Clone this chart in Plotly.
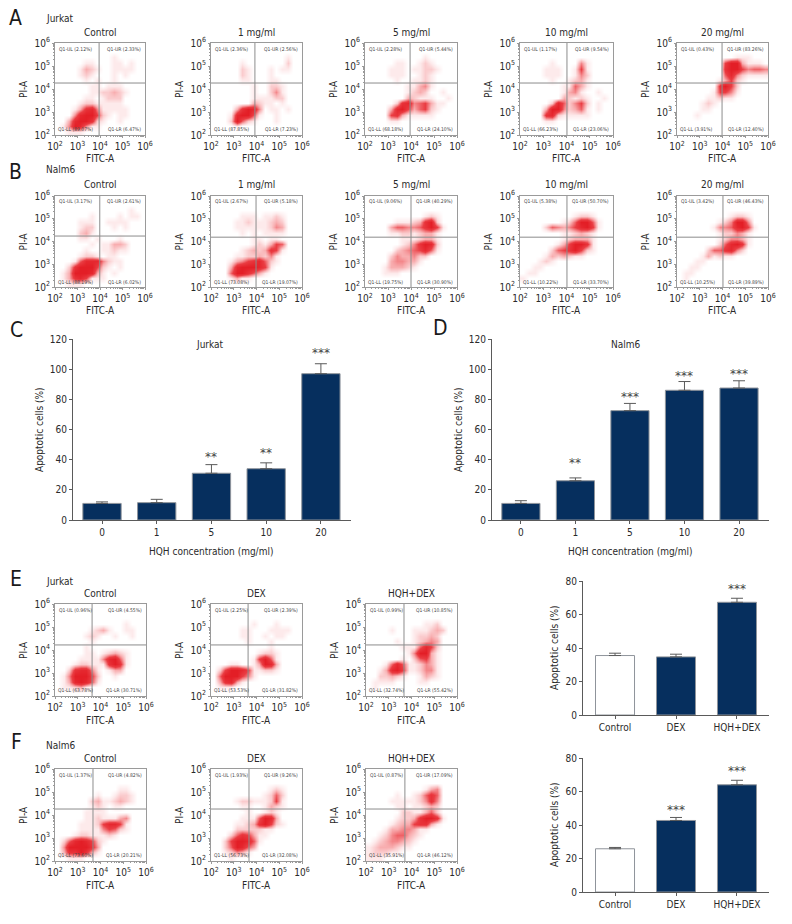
import plotly.graph_objects as go

W, H = 792, 924
FONT = "DejaVu Sans Condensed, Liberation Sans"
TEXT = "#2a2a2a"
BOX = "#9a9a9a"
GATE = "#8c8c8c"
NAVY = "#062f5e"
EDGE = "#8f949b"
AXIS = "#5a5a5a"

# density of the red dots on a 16x16 grid (0 = none, 9 = solid), top row first
A_CONTROL = ["0000000000000000", "0000000000000000", "0000000000100000", "0000011000110100",
             "0000132100111100", "0000121000101000", "0000010100100000", "0000001101110000",
             "0000001122321000", "0000011012220000", "0000122111110000", "0001378411111000",
             "0004899621011000", "0038997210010000", "0149841100000000", "0011100000000000"]
A_1MG = ["0000000000000000", "0000000000000000", "0000000000000100", "0000010000000200",
         "0000021000101100", "0000021000100000", "0000011000110000", "0000000100221000",
         "0000000100241000", "0000000111122000", "0000000321101000", "0000379840110100",
         "0001899510010000", "0002952100010000", "0000100000000000", "0000000000000000"]
A_5MG = ["0000000000000000", "0000000000000000", "0000000000100000", "0000011001210000",
         "0000111011221000", "0000111001210000", "0000010011210000", "0000000113410000",
         "0000000123200100", "0000000321110010", "0000027845631100", "0000389635621000",
         "0000673111110000", "0000110000000000", "0000000000000000", "0000000000000000"]
A_10MG = ["0000000000000000", "0000000000000000", "0000000000000000", "0000010000410000",
          "0000111001610000", "0000111001420000", "0000010012310000", "0000000115310000",
          "0000000134100100", "0000000321210010", "0000028524620100", "0000399423510100",
          "0000782111110000", "0000110000000000", "0000000000000000", "0000000000000000"]
A_20MG = ["0000000000000000", "0000000000000000", "0000000000111000", "0000000069931110",
          "0000000079964554", "0000000058421111", "0000000136210000", "0000000796200000",
          "0000001664100000", "0000011211000000", "0000121000000000", "0000110000000000",
          "0001000000000000", "0000000000000000", "0000000000000000", "0000000000000000"]

B_CONTROL = ["0000000000000000", "0000000000000000", "0000000000000100", "0000001000010110",
             "0000111001111000", "0000122000101000", "0000231000000000", "0000110100010000",
             "0000001011332000", "0000010011211000", "0000122101100000", "0001588842110000",
             "0027999621010000", "0139998310100000", "0137861110000000", "0011100000000000"]
B_1MG = ["0000000000000000", "0000000000000000", "0000000000000000", "0000011101121000",
         "0000112111232000", "0000111111243000", "0000010101111000", "0000000110110000",
         "0000000121365000", "0000012323761000", "0000112232410000", "0001346785210000",
         "0003899986100000", "0005997531000000", "0001311000000000", "0000000000000000"]
B_5MG = ["0000000000000000", "0000000000000000", "0000000000000000", "0000000000121000",
         "0000011123792000", "0000355445796100", "0000112212331000", "0000001112331000",
         "0000001247982000", "0000023456851000", "0000243342200000", "0000344331000000",
         "0001333210000000", "0001110000000000", "0000000000000000", "0000000000000000"]
B_10MG = ["0000000000000000", "0000000000000000", "0000000000000000", "0000000001221000",
          "0000000125995100", "0000254346896100", "0000000112321000", "0000000123331000",
          "0000001369971000", "0000025679621000", "0000132321100000", "0001210000000000",
          "0011000000000000", "0110000000000000", "1000000000000000", "0000000000000000"]
B_20MG = ["0000000000000000", "0000000000000000", "0000000000000000", "0000000001221000",
          "0000000124994000", "0000001445896100", "0000000122431000", "0000000124431000",
          "0000000258971000", "0000025578420000", "0000131211000000", "0001100000000000",
          "0011000000000000", "0110000000000000", "0100000000000000", "0000000000000000"]

E_CONTROL = ["0000000000000000", "0000000000000000", "0000000000000000", "0000000000001000",
             "0000001231001100", "0000012100100100", "0000001000000000", "0000010000000000",
             "0000011012321000", "0000111148951000", "0001221117971000", "0027884101330000",
             "0149996200100000", "0138985100000000", "0112310000000000", "0000000000000000"]
E_DEX = ["0000000000000000", "0000000000000000", "0000000000000000", "0000000100010000",
         "0000011000111100", "0000011001011000", "0000001000100000", "0000000000100000",
         "0000000012210000", "0000000169510000", "0001100139830000", "0269986112210000",
         "0599964100000000", "0378310000000000", "0111000000000000", "0000000000000000"]
E_HQH_DEX = ["0000000000000000", "0000000000000000", "0000000000000000", "0000000000112000",
             "0000100011123200", "0000000012232000", "0000010012343000", "0000001115862000",
             "0000000149931000", "0000001025631000", "0001585112431000", "0013896112441000",
             "0022321001321000", "0111100001100000", "0100000000000000", "0000000000000000"]

F_CONTROL = ["0000000000000000", "0000000000000000", "0000000000000000", "0000000000011000",
             "0000000100122100", "0000002311232100", "0000001210110000", "0000011110000000",
             "0000011211134000", "0000111268861000", "0000111146521000", "0001221112100000",
             "0258986210000000", "0499997300000000", "0377973100000000", "0011100000000000"]
F_DEX = ["0000000000000000", "0000000000000000", "0000000000000000", "0000000000121000",
         "0000000001252000", "0000122111261000", "0000011001321000", "0000001001210000",
         "0000011159830000", "0000112379621000", "0000222221100000", "0002576311000000",
         "0026998510000000", "0025985300000000", "0012431000000000", "0001000000000000"]
F_HQH_DEX = ["0000000000000000", "0000000000000000", "0000000000000000", "0000000000134000",
             "0000010012575000", "0000111112474000", "0000011011232000", "0000002211352000",
             "0000012237997100", "0000123367731000", "0001334431100000", "0012455321000000",
             "0123443210000000", "1233321100000000", "1222110000000000", "1110000000000000"]

# quadrant percentages: UL, UR, LL, LR
A_PCT = [[2.12, 2.33, 89.07, 6.47], [2.36, 2.56, 87.85, 7.23], [2.28, 5.44, 68.18, 24.10],
         [1.17, 9.54, 66.23, 23.06], [0.43, 83.26, 3.91, 12.40]]
B_PCT = [[3.17, 2.61, 88.19, 6.02], [2.67, 5.18, 73.08, 19.07], [9.06, 40.29, 19.75, 30.90],
         [5.38, 50.70, 10.22, 33.70], [3.42, 46.43, 10.25, 39.89]]
E_PCT = [[0.96, 4.55, 63.78, 30.71], [2.25, 2.39, 53.53, 31.82], [0.99, 10.85, 32.74, 55.42]]
F_PCT = [[1.37, 4.82, 73.60, 20.21], [1.93, 9.26, 56.73, 32.08], [0.87, 17.09, 35.91, 46.12]]

# gate positions in decades
A_GATE_X = [3.96, 3.93, 3.96, 4.02, 3.98]
A_GATE_Y = [4.26, 4.26, 4.26, 4.26, 4.26]
B_GATE_X = [3.99, 3.98, 4.00, 4.02, 4.02]
B_GATE_Y = [4.24, 4.19, 4.19, 4.19, 4.19]
E_GATE_X = [3.63, 3.63, 3.67]
E_GATE_Y = [4.22, 4.22, 4.22]
F_GATE_X = [3.67, 3.67, 3.71]
F_GATE_Y = [4.26, 4.26, 4.26]

DOSE_TITLES = ["Control", "1 mg/ml", "5 mg/ml", "10 mg/ml", "20 mg/ml"]
DEX_TITLES = ["Control", "DEX", "HQH+DEX"]

# bar charts
DOSES = ["0", "1", "5", "10", "20"]
C_VALUES = [11, 11.5, 31, 34, 97]
C_ERR_TOP = [12, 13.7, 36.7, 37.9, 103.6]
C_STARS = ["", "", "**", "**", "***"]
C_STAR_Y = [0, 0, 41.8, 44.4, 111]
D_VALUES = [11, 26, 72.5, 86, 87.5]
D_ERR_TOP = [12.8, 27.9, 77.3, 91.8, 92.3]
D_STARS = ["", "**", "***", "***", "***"]
D_STAR_Y = [0, 37.8, 81.5, 95.5, 96.8]
TREATMENTS = ["Control", "DEX", "HQH+DEX"]
E_VALUES = [35.5, 34.7, 67.3]
E_ERR_TOP = [36.9, 36.3, 69.7]
E_STARS = ["", "", "***"]
E_STAR_Y = [0, 0, 75.5]
F_VALUES = [25.8, 42.7, 64.0]
F_ERR_TOP = [26.6, 44.5, 66.7]
F_STARS = ["", "***", "***"]
F_STAR_Y = [0, 49, 72.5]

DECADES = [2, 3, 4, 5, 6]
DECADE_LABELS = ["10<sup>2</sup>", "10<sup>3</sup>", "10<sup>4</sup>", "10<sup>5</sup>", "10<sup>6</sup>"]
GRID_X = [2 + (i + 0.5) * 0.25 for i in range(16)]
GRID_Y = [6 - (j + 0.5) * 0.25 for j in range(16)]
LOG_MINOR = [0.301, 0.477, 0.602, 0.699, 0.778, 0.845, 0.903, 0.954]
REDS = [[0, "#ffffff"], [0.11, "#fdeaeb"], [0.33, "#f8aeb0"], [0.66, "#ea3d43"], [1, "#e31e26"]]

fig = go.Figure()
layout = {}
notes = []
axis_n = 0


def paper_note(px, py, text, size=10, xanchor="center", angle=0, color=TEXT):
    notes.append(dict(x=px / W, y=1 - py / H, xref="paper", yref="paper", text=text, showarrow=False,
                      xanchor=xanchor, yanchor="middle", textangle=angle,
                      font=dict(family=FONT, size=size, color=color)))


def dot_plot(rows, pct, gate_x, gate_y, title, left, right, top, bottom, title_y):
    global axis_n
    axis_n += 1
    n = axis_n
    common = dict(range=[2, 6], tickmode="array", tickvals=DECADES, ticktext=DECADE_LABELS, showgrid=False,
                  zeroline=False, showline=True, linecolor=BOX, linewidth=1, mirror=True, ticks="outside",
                  ticklen=2, tickcolor=BOX,
                  minor=dict(tickmode="array", tickvals=[d + m for d in DECADES[:-1] for m in LOG_MINOR],
                             ticks="outside", ticklen=1, tickcolor=BOX),
                  tickfont=dict(family=FONT, size=10, color=TEXT))
    layout[f"xaxis{n}"] = dict(common, domain=[left / W, right / W], anchor=f"y{n}")
    layout[f"yaxis{n}"] = dict(common, domain=[1 - bottom / H, 1 - top / H], anchor=f"x{n}")
    fig.add_trace(go.Heatmap(x=GRID_X, y=GRID_Y, z=[[int(c) for c in r] for r in rows], zmin=0, zmax=9,
                             zsmooth="best", colorscale=REDS, showscale=False, xaxis=f"x{n}", yaxis=f"y{n}"))
    line = dict(color=GATE, width=1)
    fig.add_trace(go.Scatter(x=[gate_x, gate_x], y=[2, 6], mode="lines", line=line, showlegend=False,
                             xaxis=f"x{n}", yaxis=f"y{n}"))
    fig.add_trace(go.Scatter(x=[2, 6], y=[gate_y, gate_y], mode="lines", line=line, showlegend=False,
                             xaxis=f"x{n}", yaxis=f"y{n}"))
    corners = [("UL", 2.1, 5.76, "left"), ("UR", 5.92, 5.76, "right"), ("LL", 2.06, 2.24, "left"), ("LR", 5.92, 2.24, "right")]
    for (name, qx, qy, anchor), value in zip(corners, pct):
        notes.append(dict(x=qx, y=qy, xref=f"x{n}", yref=f"y{n}", text=f"Q1-{name} ({value:.2f}%)", showarrow=False,
                          xanchor=anchor, yanchor="middle", font=dict(family=FONT, size=5, color="#444444")))
    mid = (left + right) / 2
    paper_note(mid, title_y, title)
    paper_note(mid, bottom + 24, "FITC-A")
    paper_note(left - 32, (top + bottom) / 2, "PI-A", angle=-90)


def bar_plot(cats, values, err_top, stars, star_y, ymax, ytick, colors, x_range, left, right, top, bottom, bar_w):
    global axis_n
    axis_n += 1
    n = axis_n
    idx = list(range(len(cats)))
    layout[f"xaxis{n}"] = dict(domain=[left / W, right / W], anchor=f"y{n}", range=x_range, tickmode="array", tickvals=idx,
                               ticktext=cats, showgrid=False, zeroline=False, showline=True, linecolor=AXIS, linewidth=1,
                               ticks="outside", ticklen=3, tickcolor=AXIS, tickfont=dict(family=FONT, size=10, color=TEXT))
    layout[f"yaxis{n}"] = dict(domain=[1 - bottom / H, 1 - top / H], anchor=f"x{n}", range=[0, ymax], dtick=ytick, showgrid=False,
                               zeroline=False, showline=True, linecolor=AXIS, linewidth=1, ticks="outside", ticklen=3,
                               tickcolor=AXIS, tickfont=dict(family=FONT, size=10, color=TEXT))
    fig.add_trace(go.Bar(x=idx, y=values, width=bar_w, marker=dict(color=colors, line=dict(color=EDGE, width=1)),
                         error_y=dict(type="data", symmetric=False, array=[t - v for t, v in zip(err_top, values)],
                                      arrayminus=[0] * len(values), color=AXIS, thickness=1, width=6),
                         showlegend=False, xaxis=f"x{n}", yaxis=f"y{n}"))
    for i, (s, sy) in enumerate(zip(stars, star_y)):
        if s:
            notes.append(dict(x=i, y=sy, xref=f"x{n}", yref=f"y{n}", text=s, showarrow=False, yanchor="middle",
                              font=dict(family="DejaVu Sans", size=12, color="#444444")))


ROW_X = [(55, 145), (211, 302), (365, 457), (520, 613), (677, 768)]
DEX_X = [(55, 146), (211, 302), (366, 457)]

for rows, pct, gx, gy, title, (l, r) in zip([A_CONTROL, A_1MG, A_5MG, A_10MG, A_20MG], A_PCT, A_GATE_X, A_GATE_Y, DOSE_TITLES, ROW_X):
    dot_plot(rows, pct, gx, gy, title, l, r, 43, 135, 32)
for rows, pct, gx, gy, title, (l, r) in zip([B_CONTROL, B_1MG, B_5MG, B_10MG, B_20MG], B_PCT, B_GATE_X, B_GATE_Y, DOSE_TITLES, ROW_X):
    dot_plot(rows, pct, gx, gy, title, l, r, 196, 287, 184)
for rows, pct, gx, gy, title, (l, r) in zip([E_CONTROL, E_DEX, E_HQH_DEX], E_PCT, E_GATE_X, E_GATE_Y, DEX_TITLES, DEX_X):
    dot_plot(rows, pct, gx, gy, title, l, r, 604, 696, 593)
for rows, pct, gx, gy, title, (l, r) in zip([F_CONTROL, F_DEX, F_HQH_DEX], F_PCT, F_GATE_X, F_GATE_Y, DEX_TITLES, DEX_X):
    dot_plot(rows, pct, gx, gy, title, l, r, 769, 861, 758)

bar_plot(DOSES, C_VALUES, C_ERR_TOP, C_STARS, C_STAR_Y, 120, 20, NAVY, [-0.53, 4.55], 73, 351, 339, 520, 0.7)
bar_plot(DOSES, D_VALUES, D_ERR_TOP, D_STARS, D_STAR_Y, 120, 20, NAVY, [-0.53, 4.55], 492, 769, 339, 520, 0.7)
bar_plot(TREATMENTS, E_VALUES, E_ERR_TOP, E_STARS, E_STAR_Y, 80, 20, ["#ffffff", NAVY, NAVY], [-0.525, 2.525], 583, 769, 581, 715, 0.64)
bar_plot(TREATMENTS, F_VALUES, F_ERR_TOP, F_STARS, F_STAR_Y, 80, 20, ["#ffffff", NAVY, NAVY], [-0.525, 2.525], 583, 769, 758, 892, 0.64)

paper_note(210, 344, "Jurkat")
paper_note(626, 344, "Nalm6")
paper_note(211, 551, "HQH concentration (mg/ml)")
paper_note(630, 551, "HQH concentration (mg/ml)")
paper_note(39, 430, "Apoptotic cells (%)", angle=-90)
paper_note(458, 430, "Apoptotic cells (%)", angle=-90)
paper_note(554, 648, "Apoptotic cells (%)", angle=-90)
paper_note(554, 825, "Apoptotic cells (%)", angle=-90)

paper_note(44, 19, "Jurkat", xanchor="left")
paper_note(44, 170, "Nalm6", xanchor="left")
paper_note(44, 581, "Jurkat", xanchor="left")
paper_note(44, 745, "Nalm6", xanchor="left")
for letter, px, py in [("A", 15, 18), ("B", 15, 172), ("C", 16, 330), ("D", 440, 328), ("E", 16, 579), ("F", 16, 742)]:
    paper_note(px, py, letter, 21, color="#1a1a1a")

fig.update_layout(width=W, height=H, margin=dict(l=0, r=0, t=0, b=0, autoexpand=False), paper_bgcolor="white",
                  plot_bgcolor="white", showlegend=False, annotations=notes, **layout)
# the browser's default body margin would push the fixed-size figure 8 px off
fig.write_html("out.html", config={"displayModeBar": False}, post_script="document.body.style.margin = '0';")
